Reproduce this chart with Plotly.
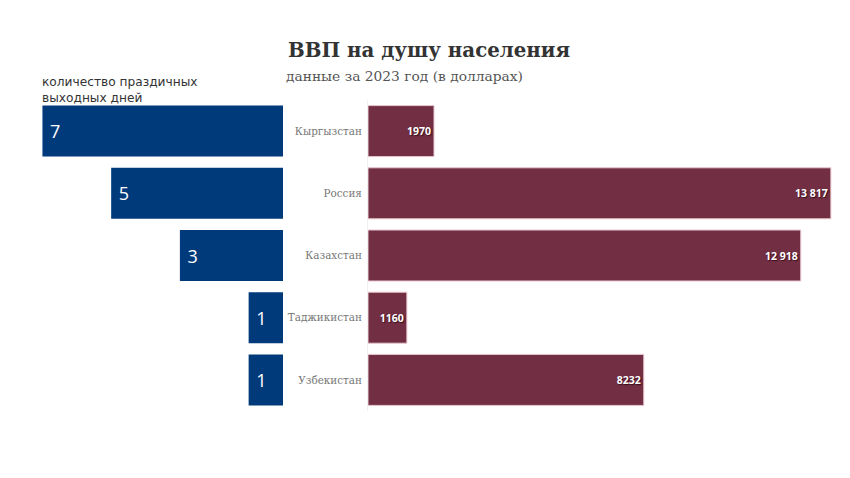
import plotly.graph_objects as go

countries = ["Кыргызстан", "Россия", "Казахстан", "Таджикистан", "Узбекистан"]
holidays = [7, 5, 3, 1, 1]
gdp = [1970, 13817, 12918, 1160, 8232]
gdp_labels = ["1970", "13 817", "12 918", "1160", "8232"]

BLUE = "#013a7b"
MAROON = "#722e42"

W, H = 850, 478
OFF = 8    # page body margin (x)
OFFY = 7.5  # page body margin (y)
def X(p):
    return (p - OFF) / W

top, bottom = 99.5 - OFFY, 410.5 - OFFY

fig = go.Figure()
fig.add_trace(go.Bar(
    y=countries, x=holidays, orientation="h", xaxis="x", yaxis="y",
    marker=dict(color=BLUE, line=dict(width=0)),
    text=["\u00a0" + str(v) for v in holidays], textposition="inside",
    insidetextanchor="end", constraintext="none",
    textfont=dict(family="Open Sans", size=18, color="white"),
    hoverinfo="skip", showlegend=False,
))
fig.add_trace(go.Bar(
    y=countries, x=gdp, orientation="h", xaxis="x2", yaxis="y2",
    marker=dict(color=MAROON, line=dict(width=1, color="#e8c8d0")),
    text=gdp_labels, textposition="inside",
    insidetextanchor="end", constraintext="none",
    textfont=dict(family="Open Sans", size=10.5, color="white", weight="bold",
                  shadow="1px 1px 1px #3a0f1c"),
    hoverinfo="skip", showlegend=False,
))

fig.update_layout(
    width=W, height=H,
    margin=dict(l=0, r=0, t=top, b=H - bottom),
    paper_bgcolor="white", plot_bgcolor="white",
    bargap=0.18,
    xaxis=dict(domain=[X(39), X(283)], range=[7.1, 0], showgrid=False,
               zeroline=False, showticklabels=False, ticks=""),
    xaxis2=dict(domain=[X(368), X(837)], range=[0, 14000], showgrid=False,
                zeroline=False, showticklabels=False, ticks=""),
    yaxis=dict(anchor="x", categoryorder="array", categoryarray=countries,
               autorange="reversed", showticklabels=False, showgrid=False,
               zeroline=False, ticks=""),
    yaxis2=dict(anchor="x2", categoryorder="array", categoryarray=countries,
                autorange="reversed", showgrid=False, zeroline=False,
                ticks="", showline=True, linecolor="#f0f0f0", linewidth=1,
                ticklabelstandoff=3,
                tickfont=dict(family="DejaVu Serif", size=10.4, color="#777777")),
    font=dict(family="DejaVu Sans"),
)

def py(p):
    return (bottom - (p - OFFY)) / (bottom - top)

fig.add_annotation(text="<b>ВВП на душу населения</b>", xref="paper", yref="paper",
                   x=X(429), y=py(50), xanchor="center", yanchor="middle",
                   showarrow=False,
                   font=dict(family="DejaVu Serif", size=19.8, color="#333333"))
fig.add_annotation(text="данные за 2023 год (в долларах)", xref="paper", yref="paper",
                   x=X(284), y=py(75), xanchor="left", yanchor="middle",
                   showarrow=False,
                   font=dict(family="DejaVu Serif", size=13.8, color="#555555"))
fig.add_annotation(text="количество праздичных<br>выходных дней", xref="paper", yref="paper",
                   x=X(40), y=py(72), xanchor="left", yanchor="top", align="left",
                   showarrow=False,
                   font=dict(family="DejaVu Sans", size=12.2, color="#333333"))

fig.write_html("out.html")
